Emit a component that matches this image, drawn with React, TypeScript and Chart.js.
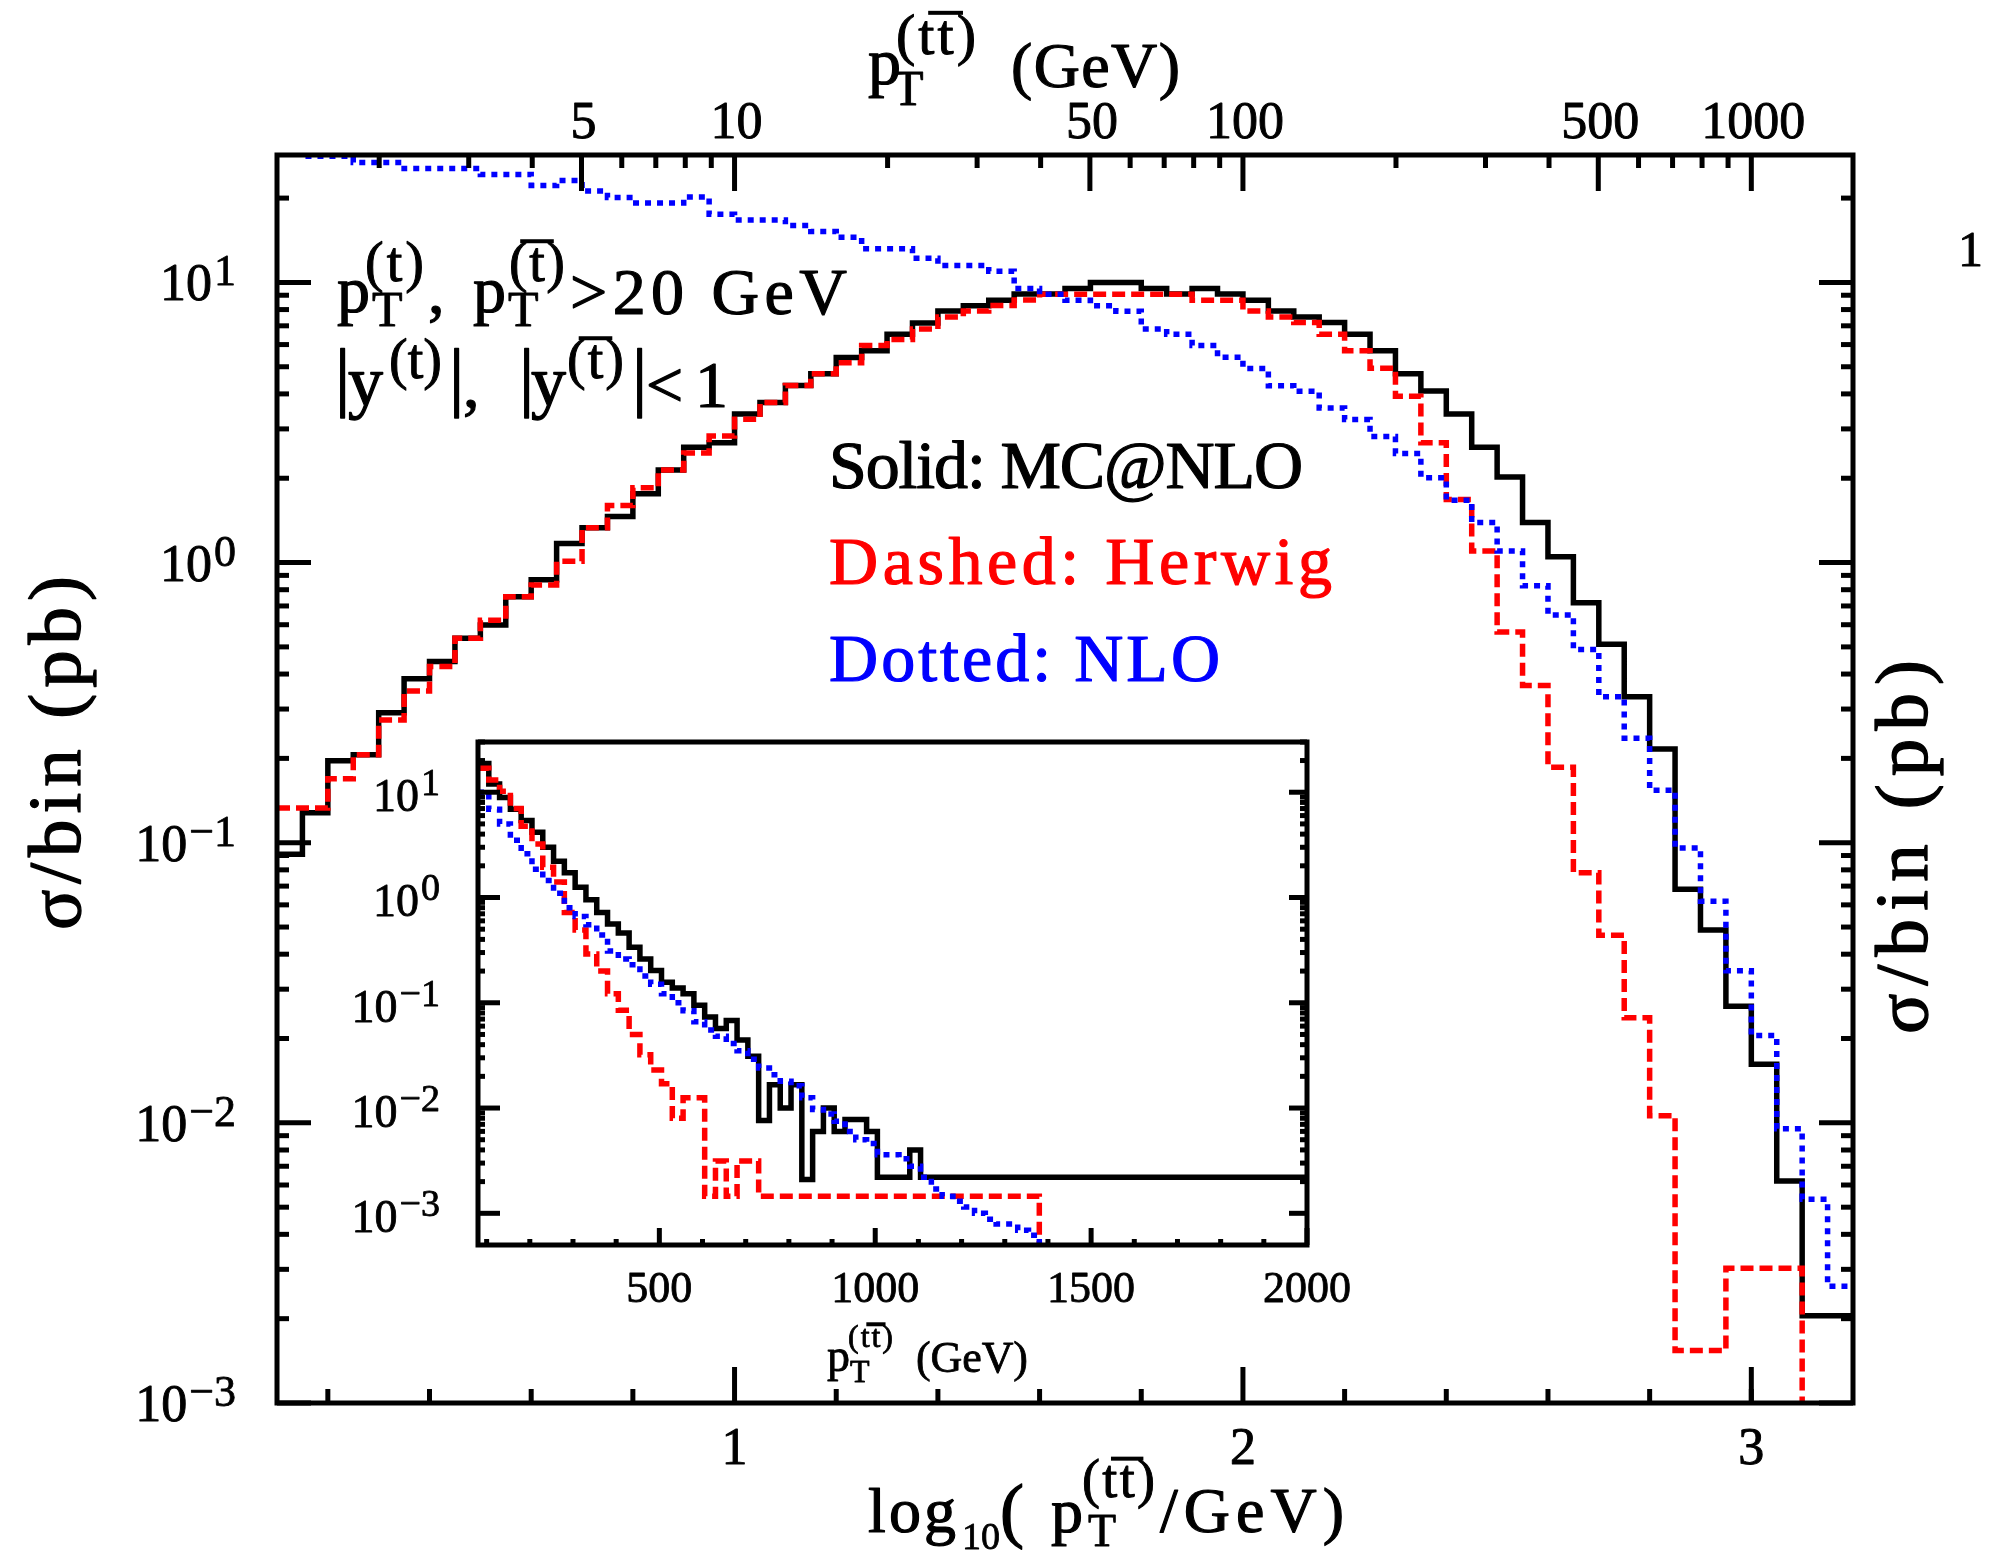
import React, { useEffect, useRef } from "react";
import { Chart, registerables } from "chart.js";

Chart.register(...registerables);

const PAGE_W = 1989;
const PAGE_H = 1550;

// main panel frame (pixels)
const MAIN_LEFT = 277;
const MAIN_RIGHT = 1853;
const MAIN_TOP = 155;
const MAIN_BOTTOM = 1403;
// inset frame (pixels)
const INSET_LEFT = 478;
const INSET_RIGHT = 1307;
const INSET_TOP = 742;
const INSET_BOTTOM = 1245;

// ---------------- data ----------------
// main panel: bins in log10(pT/GeV), width 0.05 from 0.10 to 3.20
const LOGPT_MIN = 0.1;
const LOGPT_MAX = 3.2;
const LOGPT_BIN = 0.05;
const EMPTY = 1e-6; // empty bin (falls below the axis)

const mcnloMain = [
  0.091, 0.128, 0.196, 0.206, 0.291, 0.385, 0.443, 0.537, 0.598, 0.755,
  0.869, 1.17, 1.33, 1.46, 1.76, 2.14, 2.58, 2.68, 3.39, 3.73,
  4.29, 4.72, 5.4, 5.7, 6.53, 7.16, 7.91, 8.26, 8.64, 9.1,
  9.1, 9.52, 10.0, 10.0, 9.52, 9.1, 9.52, 9.1, 8.64, 7.91,
  7.53, 7.2, 6.53, 5.7, 4.72, 4.1, 3.39, 2.58, 2.02, 1.39,
  1.05, 0.719, 0.511, 0.332, 0.216, 0.0682, 0.0488, 0.0261, 0.0162, 0.0062,
  0.00205, 0.00205,
];
const herwigMain = [
  0.133, 0.133, 0.169, 0.206, 0.274, 0.348, 0.426, 0.537, 0.623, 0.755,
  0.831, 1.01, 1.33, 1.6, 1.85, 2.14, 2.46, 2.83, 3.25, 3.73,
  4.29, 4.72, 5.17, 5.96, 6.26, 6.82, 7.53, 7.91, 8.28, 8.65,
  9.08, 9.08, 9.08, 9.08, 9.08, 9.08, 8.64, 8.64, 7.91, 7.53,
  7.2, 6.53, 5.7, 4.94, 3.92, 2.68, 1.68, 1.1, 0.565, 0.364,
  0.186, 0.0782, 0.0467, 0.0237, 0.0106, 0.00154, 0.00154, 0.00303, 0.00303, 0.00303,
  EMPTY, EMPTY,
];
const nloMain = [
  30, 28.2, 28.2, 26.8, 26.8, 25.5, 25.5, 25.5, 24.3, 24.3,
  22.2, 23.1, 21.2, 20.1, 19.2, 19.2, 20.2, 17.5, 16.7, 16.7,
  15.96, 15.2, 14.5, 13.2, 13.2, 12.2, 11.5, 11.5, 10.96, 9.52,
  9.08, 8.64, 8.26, 7.89, 6.82, 6.53, 5.96, 5.41, 4.93, 4.28,
  4.09, 3.56, 3.24, 2.82, 2.45, 2.01, 1.67, 1.39, 1.1, 0.827,
  0.65, 0.489, 0.332, 0.236, 0.154, 0.0957, 0.0618, 0.0349, 0.0205, 0.00952,
  0.00534, 0.00261,
];

// inset: bins in pT (GeV), width 25 from 80, last bin 1380-2000
const INSET_PT_MIN = 80;
const INSET_PT_MAX = 2000;
const INSET_BIN = 25;
const mcnloInset = [
  18.7, 12, 8.9, 6.9, 5.4, 4.17, 3.0, 2.21, 1.72, 1.25,
  0.95, 0.72, 0.56, 0.46, 0.337, 0.261, 0.203, 0.157, 0.138, 0.122,
  0.0946, 0.0734, 0.057, 0.068, 0.0443, 0.031, 0.0076, 0.0166, 0.01, 0.0166,
  0.0021, 0.006, 0.01, 0.006, 0.0078, 0.0078, 0.006, 0.0022, 0.0022, 0.0022,
  0.004, 0.0022, 0.0022, 0.0022, 0.0022, 0.0022, 0.0022, 0.0022, 0.0022, 0.0022,
  0.0022, 0.0022, 0.0022,
];
const herwigInset = [
  16.9, 13.1, 10.2, 7.0, 4.74, 3.23, 1.94, 1.4, 0.72, 0.49,
  0.291, 0.2, 0.122, 0.085, 0.05, 0.032, 0.023, 0.017, 0.008, 0.0125,
  0.0125, 0.00145, 0.00314, 0.00145, 0.00314, 0.00314, 0.00145, 0.00145, 0.00145, 0.00145,
  0.00145, 0.00145, 0.00145, 0.00145, 0.00145, 0.00145, 0.00145, 0.00145, 0.00145, 0.00145,
  0.00145, 0.00145, 0.00145, 0.00145, 0.00145, 0.00145, 0.00145, 0.00145, 0.00145, 0.00145,
  0.00145, 0.00145, EMPTY,
];
const nloInset = [
  10, 6.9, 5.0, 3.5, 2.6, 1.85, 1.45, 1.1, 0.8, 0.66,
  0.55, 0.44, 0.31, 0.26, 0.23, 0.18, 0.15, 0.122, 0.1, 0.084,
  0.066, 0.055, 0.048, 0.041, 0.035, 0.029, 0.024, 0.0207, 0.018, 0.0163,
  0.0125, 0.0097, 0.0088, 0.0075, 0.006, 0.005, 0.0046, 0.0036, 0.0036, 0.0033,
  0.0028, 0.0022, 0.0017, 0.00145, 0.0013, 0.00115, 0.001, 0.00088, 0.00079, 0.00079,
  0.00069, 0.00062, EMPTY,
];

// axes
const MAIN_Y_MIN = 1e-3;
const MAIN_Y_MAX = 28.5;
const mainDecades = [-3, -2, -1, 0, 1];
const logPtMajorTicks = [1, 2, 3];
const logPtMinorTicks = [0.2, 0.4, 0.6, 0.8, 1.2, 1.4, 1.6, 1.8, 2.2, 2.4, 2.6, 2.8, 3.0];
const ptMajorTicks = [5, 10, 50, 100, 500, 1000];
const ptMinorTicks = [2, 3, 4, 6, 7, 8, 9, 20, 30, 40, 60, 70, 80, 90, 200, 300, 400, 600, 700, 800, 900];
const INSET_Y_MIN = 5e-4;
const INSET_Y_MAX = 30;
const insetDecades = [-3, -2, -1, 0, 1];
const insetXMajorTicks = [500, 1000, 1500, 2000];
const insetXMinorTicks = [100, 200, 300, 400, 600, 700, 800, 900, 1100, 1200, 1300, 1400, 1600, 1700, 1800, 1900];

const BLACK = "#000000";
const RED = "#ff0000";
const BLUE = "#0000ff";
const SERIF = '"Liberation Serif", "Times New Roman", Times, serif';

// ---------------- helpers ----------------
function histPoints(values: number[], start: number, width: number, lastEdge?: number) {
  const pts = values.map((v, i) => ({ x: start + i * width, y: v }));
  pts.push({ x: lastEdge ?? start + values.length * width, y: values[values.length - 1] });
  return pts;
}

function lineDs(label: string, pts: any[], color: string, dash: number[], order: number) {
  return {
    label,
    data: pts,
    borderColor: color,
    backgroundColor: color,
    borderWidth: 5.5,
    borderDash: dash,
    borderCapStyle: "butt",
    borderJoinStyle: "miter",
    pointRadius: 0,
    pointHoverRadius: 0,
    stepped: "before", // horizontal across the bin, then vertical at the next edge
    fill: false,
    tension: 0,
    clip: 0,
    order,
  };
}

function setFont(ctx: CanvasRenderingContext2D, size: number) {
  ctx.font = `${size}px ${SERIF}`;
}

function layoutText(ctx: CanvasRenderingContext2D, text: string, size: number, width?: number) {
  ctx.save();
  setFont(ctx, size);
  (ctx as any).letterSpacing = "0px";
  const natural = ctx.measureText(text).width;
  ctx.restore();
  let spacing = 0;
  if (width && text.length > 1) spacing = (width - natural) / (text.length - 1);
  return { spacing, total: natural + spacing * (text.length - 1) };
}

function drawText(ctx: CanvasRenderingContext2D, text: string, x: number, y: number, size: number, opts: any = {}) {
  const { color = BLACK, align = "left", width } = opts;
  const { spacing, total } = layoutText(ctx, text, size, width);
  ctx.save();
  setFont(ctx, size);
  ctx.fillStyle = color;
  ctx.strokeStyle = color;
  ctx.lineWidth = Math.max(0.8, size * 0.018);
  ctx.lineJoin = "round";
  ctx.textBaseline = "alphabetic";
  ctx.textAlign = "left";
  (ctx as any).letterSpacing = `${spacing}px`;
  let x0 = x;
  if (align === "center") x0 = x - total / 2;
  else if (align === "right") x0 = x - total;
  ctx.fillText(text, x0, y);
  ctx.strokeText(text, x0, y);
  ctx.restore();
  return total;
}

// text with an overline centred over the character at barIndex (e.g. the anti-top "t")
function drawBarText(ctx: CanvasRenderingContext2D, text: string, barIndex: number, x: number, y: number, size: number, opts: any = {}) {
  const { color = BLACK, width } = opts;
  const { spacing } = layoutText(ctx, text, size, width);
  drawText(ctx, text, x, y, size, opts);
  ctx.save();
  setFont(ctx, size);
  (ctx as any).letterSpacing = "0px";
  const pre = ctx.measureText(text.slice(0, barIndex)).width + spacing * barIndex;
  const cw = ctx.measureText(text[barIndex]).width;
  ctx.restore();
  const cx = x + pre + cw / 2;
  const bw = size * 0.6;
  ctx.save();
  ctx.fillStyle = color;
  ctx.fillRect(cx - bw / 2, y - size * 0.71 - 2, bw, 4);
  ctx.restore();
}

function textWidth(ctx: CanvasRenderingContext2D, text: string, size: number) {
  ctx.save();
  setFont(ctx, size);
  (ctx as any).letterSpacing = "0px";
  const w = ctx.measureText(text).width;
  ctx.restore();
  return w;
}

function seg(ctx: CanvasRenderingContext2D, x0: number, y0: number, x1: number, y1: number) {
  ctx.beginPath();
  ctx.moveTo(x0, y0);
  ctx.lineTo(x1, y1);
  ctx.stroke();
}

function drawPow10(ctx: CanvasRenderingContext2D, n: number, xRight: number, yTick: number,
  mainSize: number, supSize: number, mainDy: number, supDy: number) {
  const sup = n < 0 ? `\u2212${-n}` : `${n}`;
  const ws = textWidth(ctx, sup, supSize);
  drawText(ctx, sup, xRight - ws, yTick + supDy, supSize);
  drawText(ctx, "10", xRight - ws - 2, yTick + mainDy, mainSize, { align: "right" });
}

function rotatedText(ctx: CanvasRenderingContext2D, text: string, bx: number, cy: number, size: number, width: number) {
  ctx.save();
  ctx.translate(bx, cy);
  ctx.rotate(-Math.PI / 2);
  drawText(ctx, text, 0, 0, size, { align: "center", width });
  ctx.restore();
}

// ---------------- main decorations ----------------
const mainDecor = {
  id: "mainDecor",
  afterDraw(chart: any) {
    const ctx: CanvasRenderingContext2D = chart.ctx;
    const { left, right, top, bottom } = chart.chartArea;
    const xs = chart.scales.x;
    const xt = chart.scales.xTop;
    const ys = chart.scales.y;
    ctx.save();
    ctx.strokeStyle = BLACK;
    ctx.lineWidth = 5;
    ctx.lineCap = "butt";

    // y ticks (left and right, inward)
    for (const n of mainDecades) {
      for (let k = 1; k <= 9; k++) {
        const v = k * Math.pow(10, n);
        if (v > MAIN_Y_MAX || v < MAIN_Y_MIN) continue;
        const y = ys.getPixelForValue(v);
        const len = k === 1 ? 34 : 12;
        seg(ctx, left, y, left + len, y);
        seg(ctx, right, y, right - len, y);
      }
    }
    // bottom ticks
    for (const v of logPtMajorTicks) {
      const x = xs.getPixelForValue(v);
      seg(ctx, x, bottom, x, bottom - 36);
    }
    for (const v of logPtMinorTicks) {
      const x = xs.getPixelForValue(v);
      seg(ctx, x, bottom, x, bottom - 14);
    }
    // top ticks
    for (const v of ptMajorTicks) {
      const x = xt.getPixelForValue(v);
      seg(ctx, x, top, x, top + 36);
    }
    for (const v of ptMinorTicks) {
      const x = xt.getPixelForValue(v);
      seg(ctx, x, top, x, top + 13);
    }
    // frame
    ctx.strokeRect(left, top, right - left, bottom - top);

    // tick labels
    for (const n of mainDecades) {
      const y = ys.getPixelForValue(Math.pow(10, n));
      drawPow10(ctx, n, left - 41, y, 52, 44, 18, 3);
    }
    for (const v of logPtMajorTicks) {
      drawText(ctx, String(v), xs.getPixelForValue(v), bottom + 61, 52, { align: "center" });
    }
    for (const v of ptMajorTicks) {
      drawText(ctx, String(v), xt.getPixelForValue(v) + 2, top - 17, 52, { align: "center" });
    }

    // top axis title: p_T^(tt̄) (GeV)
    drawText(ctx, "p", 868, 84, 66);
    drawText(ctx, "T", 893, 105, 50);
    drawBarText(ctx, "(tt)", 2, 896, 54, 58, { width: 80 });
    drawText(ctx, "(GeV)", 1011, 87, 64, { width: 169 });

    // bottom axis title: log10(p_T^(tt̄)/GeV)
    drawText(ctx, "log", 868, 1532, 64, { width: 88 });
    drawText(ctx, "10", 962, 1549, 38);
    drawText(ctx, "(", 1000, 1534, 72);
    drawText(ctx, "p", 1051, 1532, 64);
    drawText(ctx, "T", 1088, 1546, 46);
    drawBarText(ctx, "(tt)", 2, 1082, 1497, 54, { width: 73 });
    drawText(ctx, "/GeV)", 1160, 1532, 64, { width: 184 });

    // y titles
    rotatedText(ctx, "\u03c3/bin (pb)", 80, 753, 75, 354);
    rotatedText(ctx, "\u03c3/bin (pb)", 1927, 847, 75, 374);
    drawText(ctx, "1", 1958, 266, 50);

    // cuts annotation, line 1: p_T^(t), p_T^(t̄) >20 GeV
    drawText(ctx, "p", 337, 312, 66);
    drawText(ctx, "T", 372, 326, 50);
    drawText(ctx, "(t)", 365, 281, 56, { width: 59 });
    drawText(ctx, ",", 428, 313, 66);
    drawText(ctx, "p", 473, 312, 66);
    drawText(ctx, "T", 508, 326, 50);
    drawBarText(ctx, "(t)", 1, 509, 281, 56, { width: 56 });
    drawText(ctx, ">20 GeV", 570, 314, 66, { width: 277 });

    // line 2: |y^(t)|, |y^(t̄)|<1
    drawText(ctx, "|", 335, 402, 76);
    drawText(ctx, "y", 348, 405, 70);
    drawText(ctx, "(t)", 389, 378, 56, { width: 53 });
    drawText(ctx, "|", 449, 402, 76);
    drawText(ctx, ",", 463, 407, 66);
    drawText(ctx, "|", 519, 402, 76);
    drawText(ctx, "y", 531, 405, 70);
    drawBarText(ctx, "(t)", 1, 567, 378, 56, { width: 57 });
    drawText(ctx, "|", 632, 402, 76);
    drawText(ctx, "<1", 646, 407, 66, { width: 82 });

    // legend texts
    drawText(ctx, "Solid: MC@NLO", 829, 488, 68, { width: 474, color: BLACK });
    drawText(ctx, "Dashed: Herwig", 829, 584, 68, { width: 503, color: RED });
    drawText(ctx, "Dotted: NLO", 829, 681, 68, { width: 391, color: BLUE });

    ctx.restore();
  },
};

// ---------------- inset decorations ----------------
const insetDecor = {
  id: "insetDecor",
  beforeDatasetsDraw(chart: any) {
    const ctx: CanvasRenderingContext2D = chart.ctx;
    const { left, right, top, bottom } = chart.chartArea;
    ctx.save();
    ctx.fillStyle = "#ffffff";
    ctx.fillRect(left, top, right - left, bottom - top);
    ctx.restore();
  },
  afterDraw(chart: any) {
    const ctx: CanvasRenderingContext2D = chart.ctx;
    const { left, right, top, bottom } = chart.chartArea;
    const xs = chart.scales.x;
    const ys = chart.scales.y;
    ctx.save();
    ctx.strokeStyle = BLACK;
    ctx.lineWidth = 5;
    ctx.lineCap = "butt";
    for (const n of insetDecades) {
      for (let k = 1; k <= 9; k++) {
        const v = k * Math.pow(10, n);
        if (v > INSET_Y_MAX || v < INSET_Y_MIN) continue;
        const y = ys.getPixelForValue(v);
        seg(ctx, left, y, left + (k === 1 ? 22 : 7), y);
        seg(ctx, right, y, right - (k === 1 ? 18 : 7), y);
      }
    }
    for (const v of insetXMajorTicks) {
      const x = xs.getPixelForValue(v);
      seg(ctx, x, bottom, x, bottom - 17);
    }
    for (const v of insetXMinorTicks) {
      const x = xs.getPixelForValue(v);
      seg(ctx, x, bottom, x, bottom - 6);
    }
    ctx.strokeRect(left, top, right - left, bottom - top);

    for (const n of insetDecades) {
      const y = ys.getPixelForValue(Math.pow(10, n));
      drawPow10(ctx, n, left - 38, y, 46, 38, 19, 3);
    }
    for (const v of insetXMajorTicks) {
      drawText(ctx, String(v), xs.getPixelForValue(v), bottom + 57, 44, { align: "center" });
    }
    // inset x title
    drawText(ctx, "p", 827, 1371, 46);
    drawText(ctx, "T", 850, 1382, 32);
    drawBarText(ctx, "(tt)", 2, 848, 1347, 32, { width: 45 });
    drawText(ctx, "(GeV)", 916, 1372, 44, { width: 112 });
    ctx.restore();
  },
};

function baseOptions() {
  return {
    responsive: false,
    maintainAspectRatio: false,
    animation: false,
    events: [],
    devicePixelRatio: 1,
    plugins: { legend: { display: false }, tooltip: { enabled: false }, title: { display: false } },
  };
}

const hidden = {
  grid: { display: false },
  border: { display: false },
  ticks: { display: false },
};

function mainConfig(): any {
  return {
    type: "line",
    data: {
      datasets: [
        lineDs("Dotted: NLO", histPoints(nloMain, LOGPT_MIN, LOGPT_BIN), BLUE, [6, 6], 1),
        lineDs("Dashed: Herwig", histPoints(herwigMain, LOGPT_MIN, LOGPT_BIN), RED, [13, 6], 2),
        lineDs("Solid: MC@NLO", histPoints(mcnloMain, LOGPT_MIN, LOGPT_BIN), BLACK, [], 3),
      ],
    },
    options: {
      ...baseOptions(),
      layout: { padding: 0, autoPadding: false },
      scales: {
        x: {
          type: "linear", position: "bottom", min: LOGPT_MIN, max: LOGPT_MAX, ...hidden,
          afterFit: (s: any) => { s.height = PAGE_H - MAIN_BOTTOM; },
        },
        xTop: {
          type: "logarithmic", position: "top", min: Math.pow(10, LOGPT_MIN), max: Math.pow(10, LOGPT_MAX), ...hidden,
          afterFit: (s: any) => { s.height = MAIN_TOP; },
        },
        y: {
          type: "logarithmic", position: "left", min: MAIN_Y_MIN, max: MAIN_Y_MAX, ...hidden,
          afterFit: (s: any) => { s.width = MAIN_LEFT; },
        },
        yRight: {
          type: "logarithmic", position: "right", min: MAIN_Y_MIN, max: MAIN_Y_MAX, ...hidden,
          afterFit: (s: any) => { s.width = PAGE_W - MAIN_RIGHT; },
        },
      },
    },
    plugins: [mainDecor],
  };
}

function insetConfig(): any {
  return {
    type: "line",
    data: {
      datasets: [
        lineDs("NLO", histPoints(nloInset, INSET_PT_MIN, INSET_BIN, INSET_PT_MAX), BLUE, [6, 6], 1),
        lineDs("Herwig", histPoints(herwigInset, INSET_PT_MIN, INSET_BIN, INSET_PT_MAX), RED, [13, 6], 2),
        lineDs("MC@NLO", histPoints(mcnloInset, INSET_PT_MIN, INSET_BIN, INSET_PT_MAX), BLACK, [], 3),
      ],
    },
    options: {
      ...baseOptions(),
      layout: { padding: { top: INSET_TOP, left: 0, right: 0, bottom: 0 }, autoPadding: false },
      scales: {
        x: {
          type: "linear", position: "bottom", min: INSET_PT_MIN, max: INSET_PT_MAX, ...hidden,
          afterFit: (s: any) => { s.height = PAGE_H - INSET_BOTTOM; },
        },
        y: {
          type: "logarithmic", position: "left", min: INSET_Y_MIN, max: INSET_Y_MAX, ...hidden,
          afterFit: (s: any) => { s.width = INSET_LEFT; },
        },
        yRight: {
          type: "logarithmic", position: "right", min: INSET_Y_MIN, max: INSET_Y_MAX, ...hidden,
          afterFit: (s: any) => { s.width = PAGE_W - INSET_RIGHT; },
        },
      },
    },
    plugins: [insetDecor],
  };
}

export default function App() {
  const mainRef = useRef<HTMLCanvasElement>(null);
  const insetRef = useRef<HTMLCanvasElement>(null);

  useEffect(() => {
    const main = new Chart(mainRef.current as HTMLCanvasElement, mainConfig());
    const inset = new Chart(insetRef.current as HTMLCanvasElement, insetConfig());
    return () => {
      main.destroy();
      inset.destroy();
    };
  }, []);

  const canvasStyle: React.CSSProperties = {
    position: "absolute",
    left: 0,
    top: 0,
    width: PAGE_W,
    height: PAGE_H,
  };

  return (
    <div style={{ position: "absolute", left: 0, top: 0, width: PAGE_W, height: PAGE_H, background: "#ffffff", overflow: "hidden" }}>
      <canvas ref={mainRef} width={PAGE_W} height={PAGE_H} style={canvasStyle} />
      <canvas ref={insetRef} width={PAGE_W} height={PAGE_H} style={canvasStyle} />
    </div>
  );
}
